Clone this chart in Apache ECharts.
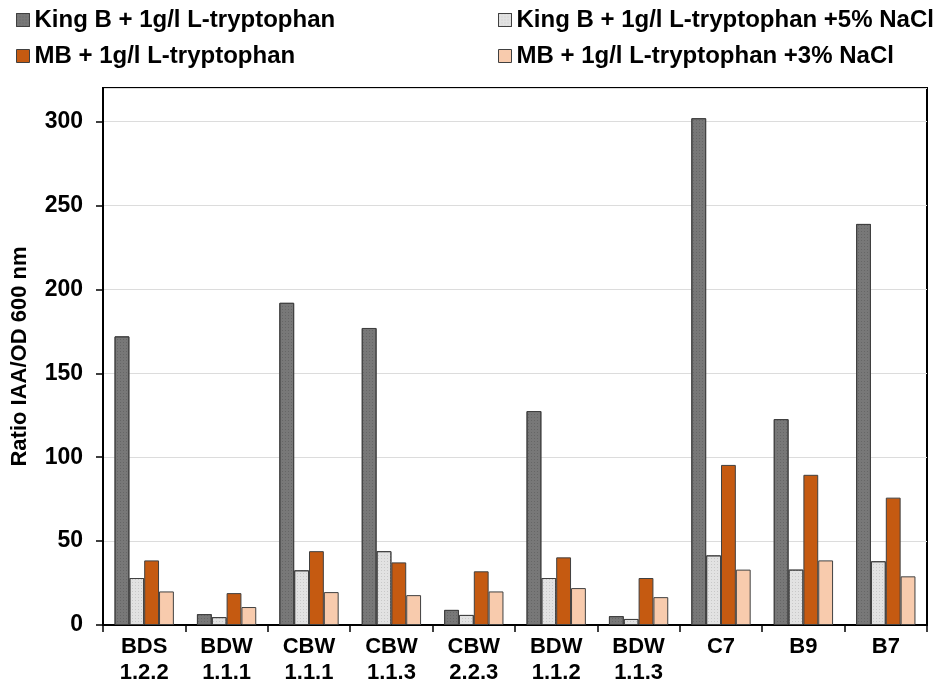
<!DOCTYPE html>
<html>
<head>
<meta charset="utf-8">
<script src="https://cdn.jsdelivr.net/npm/echarts@6/dist/echarts.min.js"></script>
<style>
  html, body { margin: 0; padding: 0; background: #fff; }
  #chart { width: 933px; height: 686px; }
</style>
</head>
<body>
<div id="chart"></div>
<script>
// strains on x axis
const categories = ['BDS\n1.2.2', 'BDW\n1.1.1', 'CBW\n1.1.1', 'CBW\n1.1.3', 'CBW\n2.2.3',
  'BDW\n1.1.2', 'BDW\n1.1.3', 'C7', 'B9', 'B7']

const seriesNames = [
  'King B + 1g/l L-tryptophan',
  'King B + 1g/l L-tryptophan +5% NaCl',
  'MB + 1g/l L-tryptophan',
  'MB + 1g/l L-tryptophan +3% NaCl'
]

const kingB = [172, 6.5, 192, 177, 9, 127.5, 5.3, 302, 122.7, 239]
const kingBNaCl = [28, 4.7, 32.6, 44, 6, 28, 3.6, 41.5, 33, 38]
const mb = [38.5, 19, 44, 37.3, 32, 40.3, 28, 95.4, 89.5, 75.9]
const mbNaCl = [20, 10.7, 19.6, 17.8, 20, 22, 16.6, 33, 38.5, 29]

const colors = ['#787878', '#e2e2e2', '#c55a11', '#f8cbad']

const font = 'Arial, "Liberation Sans", sans-serif'

const chart = echarts.init(document.getElementById('chart'))

const legendStyle = {
  orient: 'vertical',
  top: 8,
  padding: 0,
  itemGap: 12,
  itemWidth: 13,
  itemHeight: 13,
  icon: 'rect',
  textStyle: { fontFamily: font, fontWeight: 'bold', fontSize: 24, color: '#000' },
  itemStyle: { borderColor: '#404040', borderWidth: 1 }
}

function bar(name, data, color, decal) {
  return {
    name,
    type: 'bar',
    data,
    barGap: '0%',
    barCategoryGap: '28%',
    itemStyle: { color, borderColor: '#404040', borderWidth: 1, decal }
  }
}

// stippled look of the grey bars
const dots = (c) => ({ symbol: 'rect', symbolSize: 1, dashArrayX: [1, 2], dashArrayY: [1, 2], color: c })

chart.setOption({
  animation: false,
  color: colors,
  legend: [
    Object.assign({ left: 16, data: [seriesNames[0], seriesNames[2]] }, legendStyle),
    Object.assign({ left: 498, data: [seriesNames[1], seriesNames[3]] }, legendStyle)
  ],
  grid: {
    left: 103,
    right: 6,
    top: 88,
    bottom: 59,
    show: true,
    borderColor: '#000',
    borderWidth: 2,
    containLabel: false
  },
  xAxis: {
    type: 'category',
    data: categories,
    axisLine: { lineStyle: { color: '#000', width: 2 } },
    axisTick: { show: true, length: 7, lineStyle: { color: '#000', width: 1.5 } },
    axisLabel: {
      interval: 0,
      margin: 9,
      fontFamily: font,
      fontWeight: 'bold',
      fontSize: 22,
      lineHeight: 26,
      color: '#000'
    }
  },
  yAxis: {
    type: 'value',
    min: 0,
    max: 320,
    interval: 50,
    name: 'Ratio IAA/OD 600 nm',
    nameLocation: 'middle',
    nameGap: 72,
    nameTextStyle: { fontFamily: font, fontWeight: 'bold', fontSize: 22, color: '#000' },
    axisLine: { show: true, lineStyle: { color: '#000', width: 2 } },
    axisTick: { show: true, length: 7, lineStyle: { color: '#000', width: 1.5 } },
    axisLabel: {
      showMaxLabel: false,
      margin: 20,
      fontFamily: font,
      fontWeight: 'bold',
      fontSize: 23,
      color: '#000'
    },
    splitLine: { show: true, lineStyle: { color: '#dcdcdc', width: 1 } }
  },
  series: [
    bar(seriesNames[0], kingB, colors[0], dots('rgba(90,90,90,0.6)')),
    bar(seriesNames[1], kingBNaCl, colors[1], dots('rgba(190,190,190,0.7)')),
    bar(seriesNames[2], mb, colors[2]),
    bar(seriesNames[3], mbNaCl, colors[3])
  ]
})
</script>
</body>
</html>
